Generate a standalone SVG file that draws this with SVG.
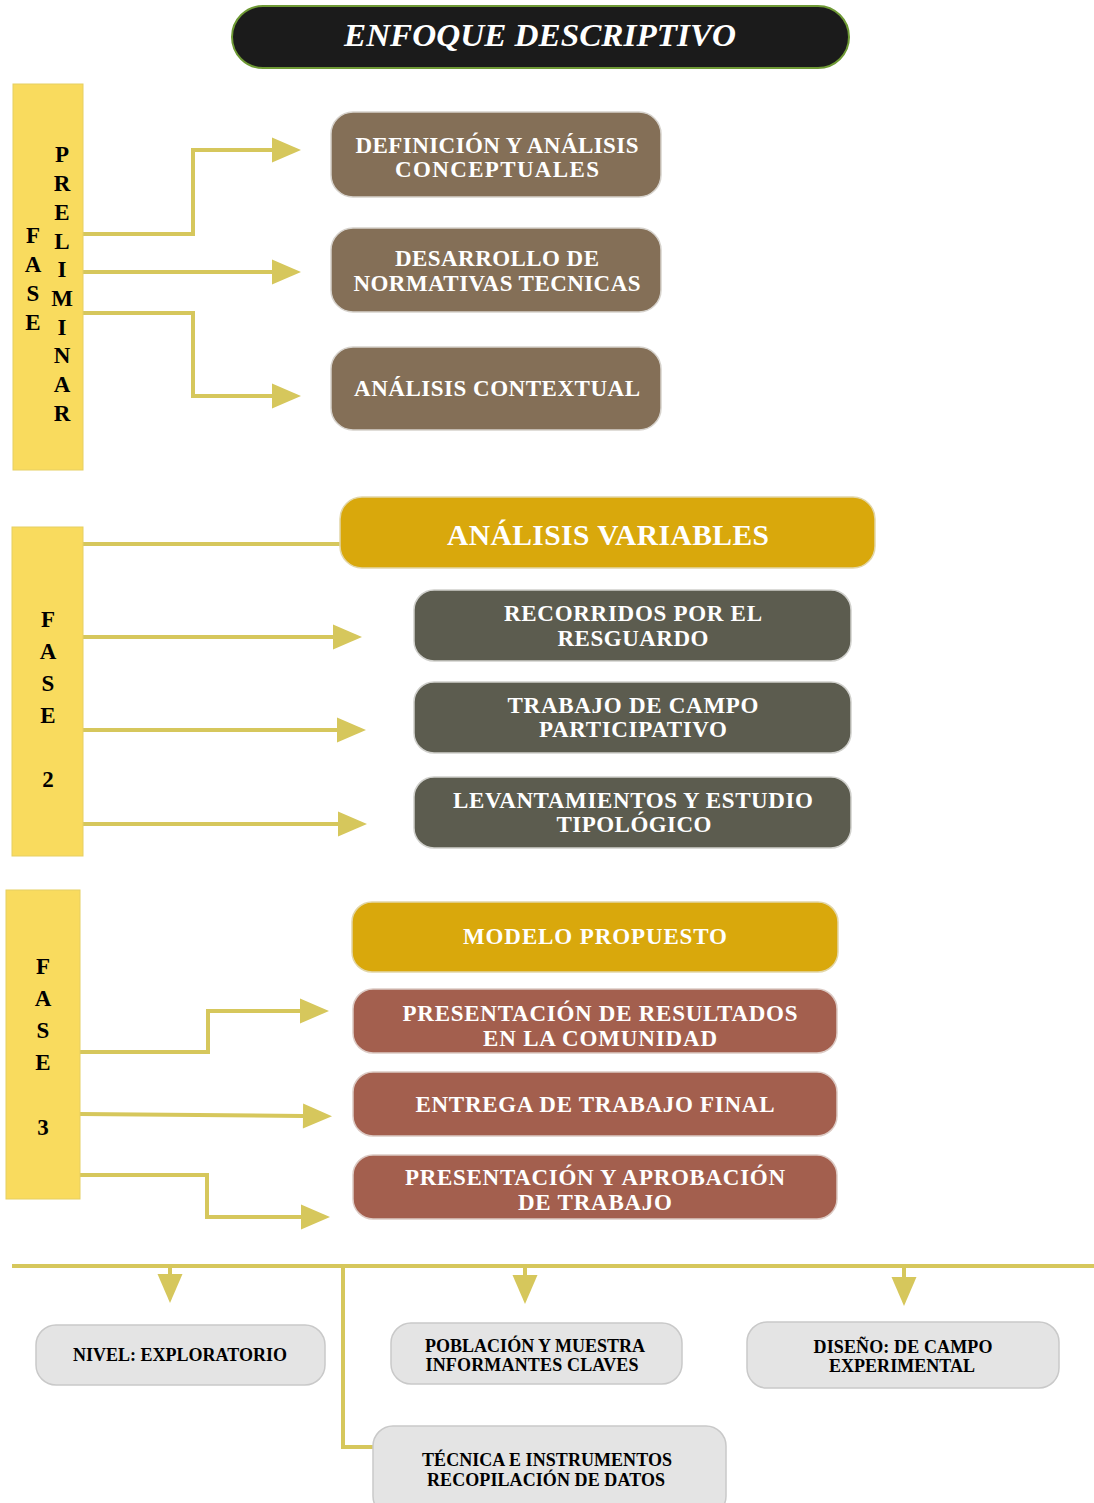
<svg xmlns="http://www.w3.org/2000/svg" width="1094" height="1503" viewBox="0 0 1094 1503">
<defs>
<style>
.bar{fill:#f9db5e;stroke:#e6cf62;stroke-width:1}
.ph{font-family:"Liberation Serif","Times New Roman",serif;font-weight:bold;font-size:23px;fill:#000;text-anchor:middle}
.tw{font-family:"Liberation Serif","Times New Roman",serif;font-weight:bold;font-size:23px;fill:#fff;text-anchor:middle}
.big{font-size:29.5px}
.tb{font-family:"Liberation Serif","Times New Roman",serif;font-weight:bold;font-size:18px;fill:#000;text-anchor:middle}
.brown{fill:#846f57;stroke:#d6d2cc;stroke-width:1.5}
.gold{fill:#d9a80c;stroke:#e2d6a8;stroke-width:1.5}
.slate{fill:#5c5c4f;stroke:#d0d0cc;stroke-width:1.5}
.red{fill:#a35f4e;stroke:#dccac4;stroke-width:1.5}
.grey{fill:#e4e4e4;stroke:#c9c9c9;stroke-width:1.5}
.con{fill:none;stroke:#d6c75c;stroke-width:4}
</style>
<marker id="ah" markerUnits="userSpaceOnUse" markerWidth="30" markerHeight="26" refX="0" refY="12.5" orient="auto" overflow="visible">
<path d="M0,0 L29,12.5 L0,25 z" fill="#d6c75c"/>
</marker>
</defs>

<g id="title">
<rect x="232" y="6" width="617" height="62" rx="31" fill="#1b1b1b" stroke="#6f9a35" stroke-width="2"/>
<text x="540" y="46" font-family="'Liberation Serif','Times New Roman',serif" font-style="italic" font-weight="bold" font-size="32" fill="#fff" text-anchor="middle" textLength="392" lengthAdjust="spacingAndGlyphs">ENFOQUE DESCRIPTIVO</text>
</g>

<g id="connectors">
<path class="con" d="M83,234 H193 V150 H272" marker-end="url(#ah)"/>
<path class="con" d="M83,272 H272" marker-end="url(#ah)"/>
<path class="con" d="M83,313 H193 V396 H272" marker-end="url(#ah)"/>
<path class="con" d="M83,544 H342"/>
<path class="con" d="M83,637 H333" marker-end="url(#ah)"/>
<path class="con" d="M83,730 H337" marker-end="url(#ah)"/>
<path class="con" d="M83,824 H338" marker-end="url(#ah)"/>
<path class="con" d="M80,1052 H208 V1011 H300" marker-end="url(#ah)"/>
<path class="con" d="M80,1114 L303,1116" marker-end="url(#ah)"/>
<path class="con" d="M80,1175 H207 V1217 H301" marker-end="url(#ah)"/>
<path class="con" d="M12,1266 H1094"/>
<path class="con" d="M170,1266 V1274" marker-end="url(#ah)"/>
<path class="con" d="M525,1266 V1275" marker-end="url(#ah)"/>
<path class="con" d="M904,1266 V1277" marker-end="url(#ah)"/>
<path class="con" d="M343,1266 V1447 H373"/>
</g>

<g id="fase-preliminar">
<rect class="bar" x="13" y="84" width="70" height="386"/>
<text class="ph"><tspan x="33" y="243">F</tspan><tspan x="33" y="272">A</tspan><tspan x="33" y="301">S</tspan><tspan x="33" y="330">E</tspan></text>
<text class="ph"><tspan x="62" y="162">P</tspan><tspan x="62" y="191">R</tspan><tspan x="62" y="220">E</tspan><tspan x="62" y="249">L</tspan><tspan x="62" y="277">I</tspan><tspan x="62" y="306">M</tspan><tspan x="62" y="335">I</tspan><tspan x="62" y="363">N</tspan><tspan x="62" y="392">A</tspan><tspan x="62" y="421">R</tspan></text>
</g>

<g id="definicion">
<rect class="brown" x="331" y="112" width="330" height="85" rx="22"/>
<text class="tw" x="497" y="153" textLength="283" lengthAdjust="spacing">DEFINICIÓN Y ANÁLISIS</text>
<text class="tw" x="497" y="177" textLength="204" lengthAdjust="spacing">CONCEPTUALES</text>
</g>
<g id="desarrollo">
<rect class="brown" x="331" y="228" width="330" height="84" rx="22"/>
<text class="tw" x="497" y="266" textLength="204" lengthAdjust="spacing">DESARROLLO DE</text>
<text class="tw" x="497" y="291" textLength="287" lengthAdjust="spacing">NORMATIVAS TECNICAS</text>
</g>
<g id="contextual">
<rect class="brown" x="331" y="347" width="330" height="83" rx="22"/>
<text class="tw" x="497" y="396" textLength="286" lengthAdjust="spacing">ANÁLISIS CONTEXTUAL</text>
</g>

<g id="fase-2">
<rect class="bar" x="12" y="527" width="71" height="329"/>
<text class="ph"><tspan x="48" y="627">F</tspan><tspan x="48" y="659">A</tspan><tspan x="48" y="691">S</tspan><tspan x="48" y="723">E</tspan><tspan x="48" y="787">2</tspan></text>
</g>

<g id="analisis-variables">
<rect class="gold" x="340" y="497" width="535" height="71" rx="22"/>
<text class="tw big" x="608" y="545" textLength="322" lengthAdjust="spacing">ANÁLISIS VARIABLES</text>
</g>
<g id="recorridos">
<rect class="slate" x="414" y="590" width="437" height="71" rx="20"/>
<text class="tw" x="633" y="621" textLength="258" lengthAdjust="spacing">RECORRIDOS POR EL</text>
<text class="tw" x="633" y="646" textLength="151" lengthAdjust="spacing">RESGUARDO</text>
</g>
<g id="trabajo-campo">
<rect class="slate" x="414" y="682" width="437" height="71" rx="20"/>
<text class="tw" x="633" y="713" textLength="251" lengthAdjust="spacing">TRABAJO DE CAMPO</text>
<text class="tw" x="633" y="737" textLength="188" lengthAdjust="spacing">PARTICIPATIVO</text>
</g>
<g id="levantamientos">
<rect class="slate" x="414" y="777" width="437" height="71" rx="20"/>
<text class="tw" x="633" y="808" textLength="360" lengthAdjust="spacing">LEVANTAMIENTOS Y ESTUDIO</text>
<text class="tw" x="634" y="832" textLength="155" lengthAdjust="spacing">TIPOLÓGICO</text>
</g>

<g id="fase-3">
<rect class="bar" x="6" y="890" width="74" height="309"/>
<text class="ph"><tspan x="43" y="974">F</tspan><tspan x="43" y="1006">A</tspan><tspan x="43" y="1038">S</tspan><tspan x="43" y="1070">E</tspan><tspan x="43" y="1135">3</tspan></text>
</g>

<g id="modelo">
<rect class="gold" x="352" y="902" width="486" height="70" rx="20"/>
<text class="tw" x="595" y="944" textLength="264" lengthAdjust="spacing">MODELO PROPUESTO</text>
</g>
<g id="presentacion-resultados">
<rect class="red" x="353" y="989" width="484" height="64" rx="20"/>
<text class="tw" x="600" y="1021" textLength="395" lengthAdjust="spacing">PRESENTACIÓN DE RESULTADOS</text>
<text class="tw" x="600" y="1046" textLength="234" lengthAdjust="spacing">EN LA COMUNIDAD</text>
</g>
<g id="entrega">
<rect class="red" x="353" y="1072" width="484" height="64" rx="20"/>
<text class="tw" x="595" y="1112" textLength="359" lengthAdjust="spacing">ENTREGA DE TRABAJO FINAL</text>
</g>
<g id="aprobacion">
<rect class="red" x="353" y="1155" width="484" height="64" rx="20"/>
<text class="tw" x="595" y="1185" textLength="380" lengthAdjust="spacing">PRESENTACIÓN Y APROBACIÓN</text>
<text class="tw" x="595" y="1210" textLength="154" lengthAdjust="spacing">DE TRABAJO</text>
</g>

<g id="nivel">
<rect class="grey" x="36" y="1325" width="289" height="60" rx="20"/>
<text class="tb" x="180" y="1361" textLength="214" lengthAdjust="spacing">NIVEL: EXPLORATORIO</text>
</g>
<g id="poblacion">
<rect class="grey" x="391" y="1323" width="291" height="61" rx="20"/>
<text class="tb" x="535" y="1352" textLength="220" lengthAdjust="spacing">POBLACIÓN Y MUESTRA</text>
<text class="tb" x="532" y="1371" textLength="213" lengthAdjust="spacing">INFORMANTES CLAVES</text>
</g>
<g id="diseno">
<rect class="grey" x="747" y="1322" width="312" height="66" rx="20"/>
<text class="tb" x="903" y="1353" textLength="179" lengthAdjust="spacing">DISEÑO: DE CAMPO</text>
<text class="tb" x="902" y="1372" textLength="146" lengthAdjust="spacing">EXPERIMENTAL</text>
</g>
<g id="tecnica">
<rect class="grey" x="373" y="1426" width="353" height="90" rx="20"/>
<text class="tb" x="547" y="1466" textLength="250" lengthAdjust="spacing">TÉCNICA E INSTRUMENTOS</text>
<text class="tb" x="546" y="1486" textLength="238" lengthAdjust="spacing">RECOPILACIÓN DE DATOS</text>
</g>
</svg>
